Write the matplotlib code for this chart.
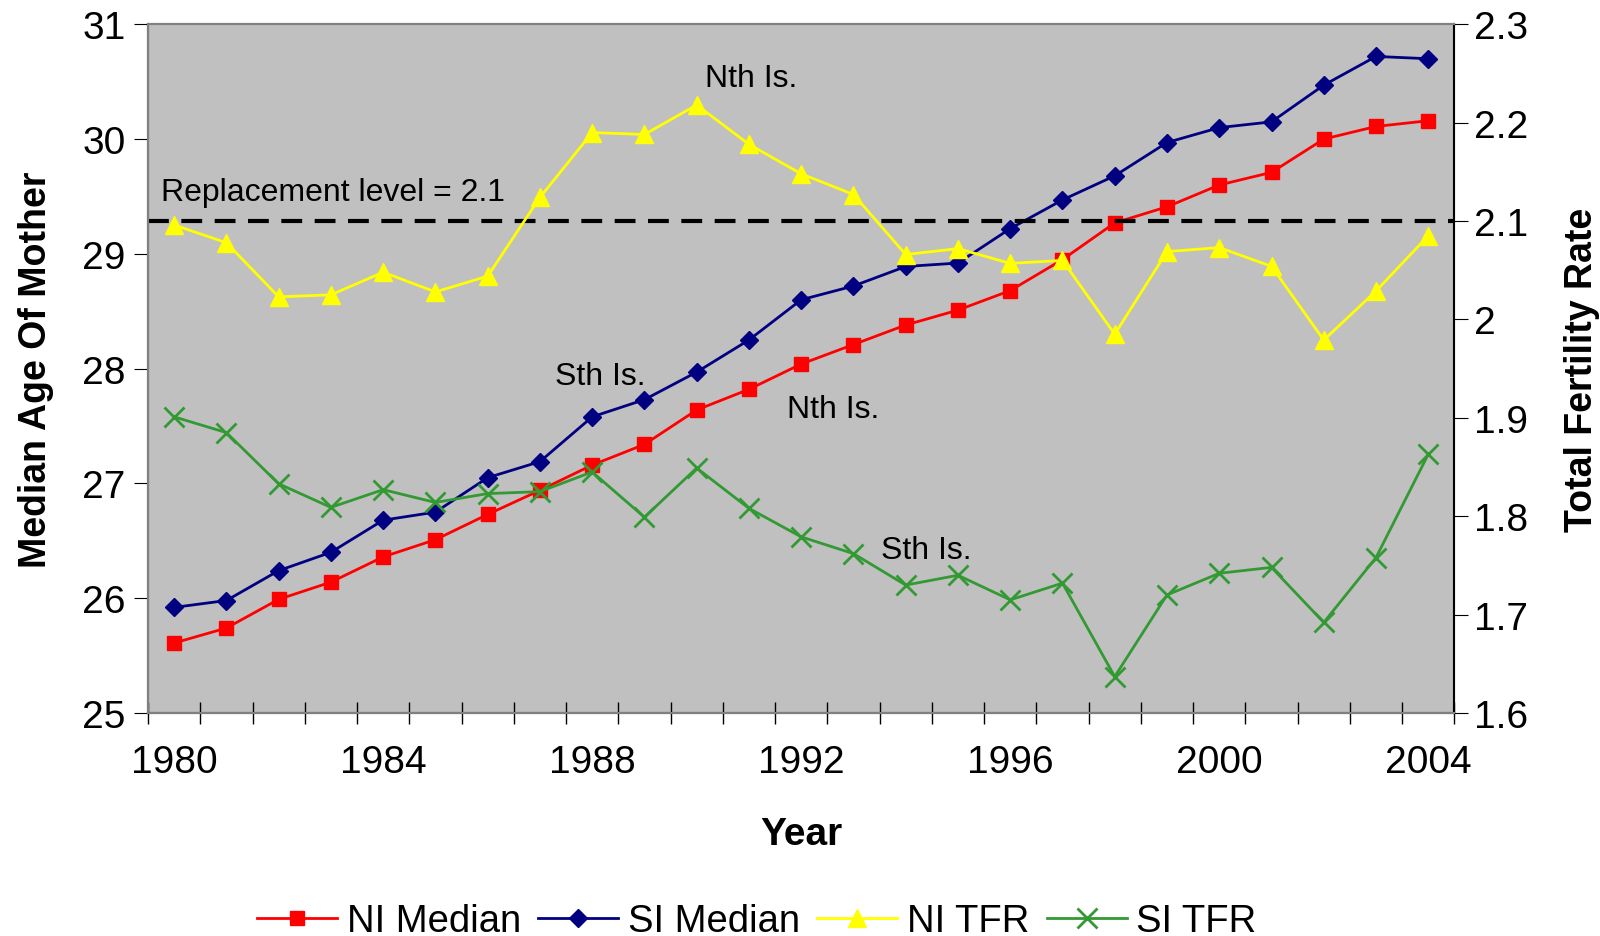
import numpy as np
import matplotlib.pyplot as plt
from matplotlib.ticker import FixedLocator, NullFormatter

plt.rcParams['font.family'] = ['Liberation Sans', 'DejaVu Sans']

years = list(range(1980, 2005))

ni_median = [25.61, 25.74, 25.99, 26.14, 26.36, 26.51, 26.73, 26.94, 27.16, 27.34,
             27.64, 27.82, 28.04, 28.21, 28.38, 28.51, 28.68, 28.95, 29.27, 29.41,
             29.60, 29.71, 30.00, 30.11, 30.16]
si_median = [25.92, 25.98, 26.24, 26.40, 26.68, 26.75, 27.05, 27.19, 27.58, 27.73,
             27.97, 28.25, 28.60, 28.72, 28.89, 28.92, 29.22, 29.47, 29.68, 29.97,
             30.10, 30.15, 30.47, 30.72, 30.70]
ni_tfr = [2.096, 2.078, 2.023, 2.025, 2.048, 2.028, 2.044, 2.124, 2.190, 2.188,
          2.218, 2.178, 2.148, 2.127, 2.066, 2.072, 2.057, 2.060, 1.985, 2.069,
          2.073, 2.054, 1.979, 2.029, 2.085]
si_tfr = [1.901, 1.885, 1.833, 1.809, 1.827, 1.814, 1.823, 1.825, 1.845, 1.799,
          1.849, 1.808, 1.779, 1.762, 1.730, 1.740, 1.715, 1.732, 1.637, 1.720,
          1.742, 1.748, 1.692, 1.758, 1.863]
replacement = 2.1

fig = plt.figure(figsize=(16, 9.37), dpi=100)
ax = fig.add_axes([0.0925, 0.238, 0.8165, 0.735])
ax.set_facecolor("#C0C0C0")
ax2 = ax.twinx()

l1, = ax.plot(years, ni_median, "-s", color="#FF0000", markersize=10, linewidth=2, label="NI Median", zorder=3)
l2, = ax.plot(years, si_median, "-D", color="#000080", markersize=9, linewidth=2, label="SI Median", zorder=3)
l3, = ax2.plot(years, ni_tfr, "-^", color="#FFFF00", markersize=13, linewidth=2, label="NI TFR")
l4, = ax2.plot(years, si_tfr, "-x", color="#339933", markersize=14, markeredgewidth=2, linewidth=2, label="SI TFR")
ax2.axhline(replacement, color="black", linestyle=(0, (5, 3)), linewidth=3, zorder=1)

ax.set_xlim(1979.5, 2004.5)
ax.set_ylim(25, 31)
ax2.set_ylim(1.6, 2.3)
ax.set_yticks(range(25, 32))
ax2.set_yticks([1.6, 1.7, 1.8, 1.9, 2.0, 2.1, 2.2, 2.3])
ax2.set_yticklabels(["1.6", "1.7", "1.8", "1.9", "2", "2.1", "2.2", "2.3"])

ax.xaxis.set_major_locator(FixedLocator([y - 0.5 for y in range(1980, 2006)]))
ax.xaxis.set_major_formatter(NullFormatter())
ax.xaxis.set_minor_locator(FixedLocator(range(1980, 2005, 4)))
ax.set_xticklabels([str(y) for y in range(1980, 2005, 4)], minor=True)
ax.tick_params(axis="x", which="major", direction="inout", length=16, width=1)
ax.tick_params(axis="x", which="minor", length=0, pad=22, labelsize=28)
ax.tick_params(axis="y", direction="out", length=10, labelsize=28, pad=6)
ax2.tick_params(axis="y", direction="out", length=10, labelsize=28, pad=4)

for a in (ax, ax2):
    for s in a.spines.values():
        s.set_color("#808080")
        s.set_linewidth(1.5)
ax.spines["left"].set_color("black")
ax.spines["bottom"].set_color("black")
ax2.spines["right"].set_color("black")

ax.set_xlabel("Year", fontsize=28, fontweight="bold", labelpad=26)
ax.set_ylabel("Median Age Of Mother", fontsize=27, fontweight="bold", labelpad=20)
ax2.set_ylabel("Total Fertility Rate", fontsize=27, fontweight="bold", labelpad=26)

ax.text(1979.75, 29.54, "Replacement level = 2.1", fontsize=23, va="center")
ax.text(1990.15, 30.53, "Nth Is.", fontsize=23, va="center")
ax.text(1987.28, 27.94, "Sth Is.", fontsize=23, va="center")
ax.text(1991.73, 27.65, "Nth Is.", fontsize=23, va="center")
ax.text(1993.52, 26.42, "Sth Is.", fontsize=23, va="center")

fig.legend([l1, l2, l3, l4], ["NI Median", "SI Median", "NI TFR", "SI TFR"],
           loc="lower center", bbox_to_anchor=(0.473, -0.04), ncol=4, frameon=False,
           fontsize=27.5, handlelength=2.1, columnspacing=0.45, handletextpad=0.25)

fig.savefig("out.png", dpi=100)
